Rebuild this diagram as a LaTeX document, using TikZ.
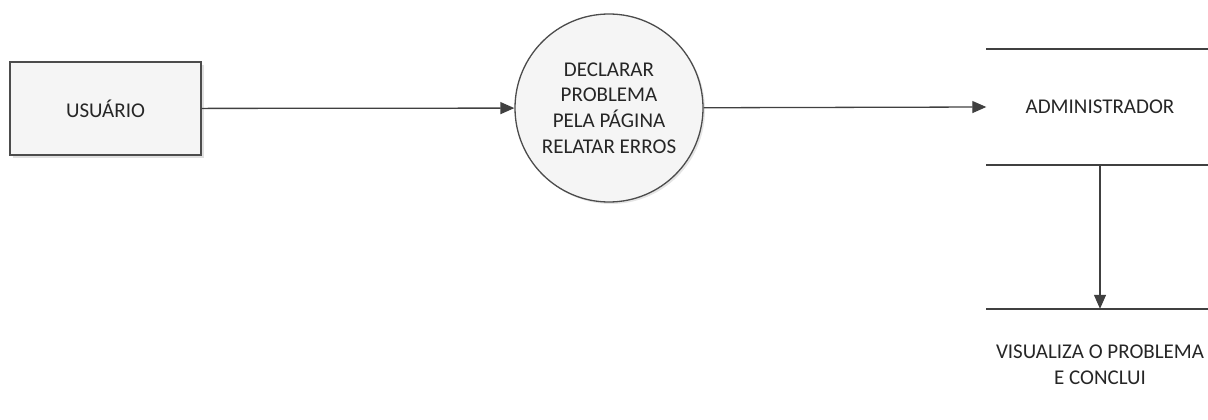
\documentclass[tikz,border=0pt]{standalone}
\usepackage{fontspec}
\setmainfont{Carlito}
\usetikzlibrary{arrows.meta,shadows}
\begin{document}
\begin{tikzpicture}[x=1pt,y=-1pt,
    every node/.style={font=\fontsize{21}{25.7}\selectfont, text=black!85},
    entity/.style={draw=black!70, line width=1.3pt, fill=black!4, minimum width=191pt, minimum height=93pt, inner sep=0pt,
        drop shadow={shadow xshift=3pt, shadow yshift=-3pt, fill=black!12, opacity=1}},
    process/.style={draw=black!70, line width=1.3pt, fill=black!4, circle, minimum size=188pt, inner sep=0pt, align=center,
        drop shadow={shadow xshift=2pt, shadow yshift=-2pt, fill=black!10, opacity=1}},
    store/.style={minimum width=227pt, inner sep=0pt, align=center},
    storeline/.style={draw=black!75, line width=1.6pt},
    flow/.style={draw=black!75, line width=1.3pt, -{Triangle[length=14pt,width=12pt]}}]
    \useasboundingbox (0,0) rectangle (1208,420);
    \node[entity] at (105.5,108.5) (USR) {USUÁRIO};
    \node[process] at (609,108) (DEC) {DECLARAR\\PROBLEMA\\PELA PÁGINA\\RELATAR ERROS};
    \node[store, minimum height=116pt] at (1100,107) (ADM) {ADMINISTRADOR};
    \node[store, minimum height=112pt] at (1100,365) (VIS) {VISUALIZA O PROBLEMA\\E CONCLUI};
    \draw[storeline] (ADM.north west) -- (ADM.north east);
    \draw[storeline] (ADM.south west) -- (ADM.south east);
    \draw[storeline] (VIS.north west) -- (VIS.north east);
    \draw[storeline] (VIS.south west) -- (VIS.south east);
    \draw[flow] (USR) -- (DEC);
    \draw[flow] (DEC) -- (ADM.west);
    \draw[flow] (ADM) -- (VIS);
\end{tikzpicture}
\end{document}
